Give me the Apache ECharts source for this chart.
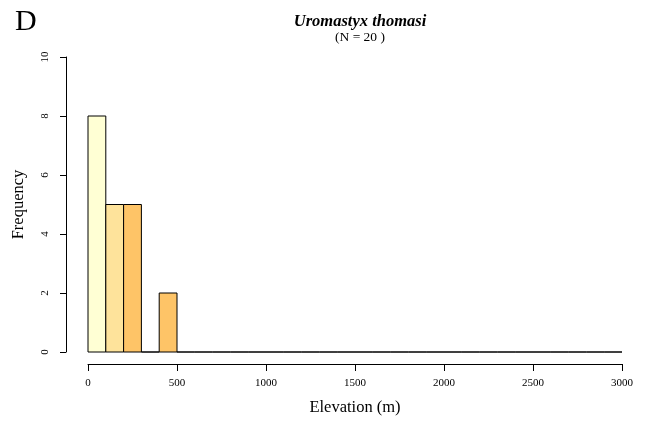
<!DOCTYPE html>
<html>
<head>
<meta charset="utf-8">
<script src="https://cdn.jsdelivr.net/npm/echarts@6/dist/echarts.min.js"></script>
<style>html,body{margin:0;padding:0;background:#fff}#c{width:646px;height:421px}</style>
</head>
<body>
<div id="c"></div>
<script>
// Histogram bins (width 100 m) from 0 to 3000 m
const binWidth = 100;
const counts = [8,5,5,0,2,0,0,0,0,0, 0,0,0,0,0,0,0,0,0,0, 0,0,0,0,0,0,0,0,0,0];
const barColors = ['#FFFFD4','#FEE39B','#FEC467','#FEC467','#FEC467'];
const xTicks = [0,500,1000,1500,2000,2500,3000];
const yTicks = [0,2,4,6,8,10];
const titleText = 'Uromastyx thomasi';
const subText = '(N = 20 )';
const panelLabel = 'D';

const data = counts.map((c,i)=>[i*binWidth,(i+1)*binWidth,c,i]);
const serif = '"Liberation Serif","DejaVu Serif",serif';

const chart = echarts.init(document.getElementById('c'));
chart.setOption({
  animation:false,
  backgroundColor:'#fff',
  title:[
    {text:titleText,left:355,textAlign:'center',top:8,textStyle:{fontFamily:serif,fontWeight:'bold',fontStyle:'italic',fontSize:16.5,color:'#000'}},
    {text:subText,left:355,textAlign:'center',top:25,textStyle:{fontFamily:serif,fontWeight:'normal',fontSize:13.5,color:'#000'}},
    {text:panelLabel,left:10,top:2,textStyle:{fontFamily:serif,fontWeight:'normal',fontSize:30,color:'#000'}}
  ],
  grid:{left:88,right:24,top:57,bottom:68},
  xAxis:{type:'value',min:xTicks[0],max:xTicks[xTicks.length-1],interval:xTicks[1]-xTicks[0],offset:12,
    axisLine:{show:true,onZero:false,lineStyle:{color:'#000',width:1}},
    axisTick:{show:true,length:7,lineStyle:{color:'#000'}},
    axisLabel:{fontFamily:serif,fontSize:11,color:'#000',margin:14,showMinLabel:true,showMaxLabel:true,formatter:v=>String(v)},
    splitLine:{show:false},
    name:'Elevation (m)',nameLocation:'middle',nameGap:35,
    nameTextStyle:{fontFamily:serif,fontSize:16.5,color:'#000'}
  },
  yAxis:{type:'value',min:yTicks[0],max:yTicks[yTicks.length-1],interval:yTicks[1]-yTicks[0],offset:22,
    axisLine:{show:true,onZero:false,lineStyle:{color:'#000',width:1}},
    axisTick:{show:true,length:6,lineStyle:{color:'#000'}},
    axisLabel:{fontFamily:serif,fontSize:11,color:'#000',rotate:90,margin:15,formatter:v=>String(v)},
    splitLine:{show:false},
    name:'Frequency',nameLocation:'middle',nameGap:39,
    nameTextStyle:{fontFamily:serif,fontSize:16.5,color:'#000'}
  },
  series:[{
    type:'custom',
    data:data,
    renderItem:function(params,api){
      const p0 = api.coord([api.value(0),0]);
      const p1 = api.coord([api.value(1),api.value(2)]);
      const idx = api.value(3);
      return {type:'rect',
        shape:{x:p0[0],y:p1[1],width:p1[0]-p0[0],height:p0[1]-p1[1]},
        style:{fill:barColors[idx]||'#FEC467',stroke:'#000',lineWidth:1}};
    }
  }]
});
</script>
</body>
</html>
